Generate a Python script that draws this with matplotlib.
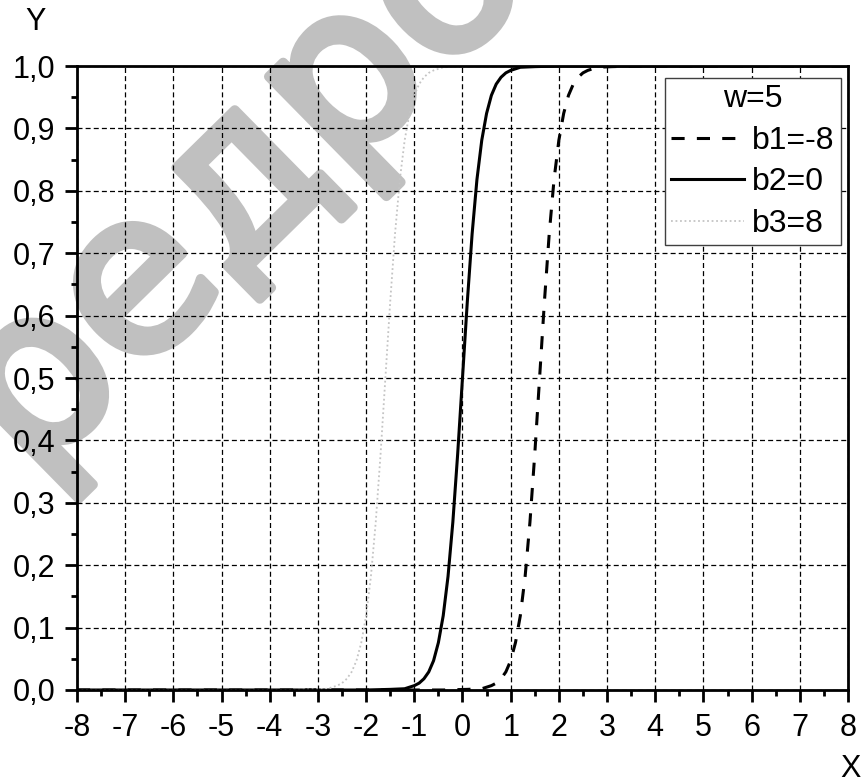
import matplotlib
matplotlib.use("Agg")
import matplotlib.pyplot as plt
import matplotlib.patheffects as pe
from matplotlib.ticker import FuncFormatter, MultipleLocator

plt.rcParams['font.family'] = ['Liberation Sans', 'DejaVu Sans']

# sigmoid outputs for w=5 and three bias values
x_b1 = [-8, -1.4, -0.4, 0.1, 0.4, 0.6, 0.7, 0.8, 0.9, 1.0, 1.1, 1.2, 1.3, 1.4, 1.5, 1.6,
        1.7, 1.8, 1.9, 2.0, 2.1, 2.2, 2.3, 2.4, 2.5, 2.6, 2.8, 3.1, 3.6, 4.6, 8]
y_b1 = [0.0, 0.0, 0.0, 0.001, 0.002, 0.007, 0.011, 0.018, 0.029, 0.047, 0.076, 0.119, 0.182,
        0.269, 0.378, 0.5, 0.622, 0.731, 0.818, 0.881, 0.924, 0.953, 0.971, 0.982, 0.989,
        0.993, 0.998, 0.999, 1.0, 1.0, 1.0]

x_b2 = [-8, -3, -2, -1.5, -1.2, -1.0, -0.9, -0.8, -0.7, -0.6, -0.5, -0.4, -0.3, -0.2, -0.1, 0.0,
        0.1, 0.2, 0.3, 0.4, 0.5, 0.6, 0.7, 0.8, 0.9, 1.0, 1.2, 1.5, 2, 3, 8]
y_b2 = [0.0, 0.0, 0.0, 0.001, 0.002, 0.007, 0.011, 0.018, 0.029, 0.047, 0.076, 0.119, 0.182,
        0.269, 0.378, 0.5, 0.622, 0.731, 0.818, 0.881, 0.924, 0.953, 0.971, 0.982, 0.989,
        0.993, 0.998, 0.999, 1.0, 1.0, 1.0]

x_b3 = [-8, -4.6, -3.6, -3.1, -2.8, -2.6, -2.5, -2.4, -2.3, -2.2, -2.1, -2.0, -1.9, -1.8, -1.7, -1.6,
        -1.5, -1.4, -1.3, -1.2, -1.1, -1.0, -0.9, -0.8, -0.7, -0.6, -0.4, -0.1, 0.4, 1.4, 8]
y_b3 = [0.0, 0.0, 0.0, 0.001, 0.002, 0.007, 0.011, 0.018, 0.029, 0.047, 0.076, 0.119, 0.182,
        0.269, 0.378, 0.5, 0.622, 0.731, 0.818, 0.881, 0.924, 0.953, 0.971, 0.982, 0.989,
        0.993, 0.998, 0.999, 1.0, 1.0, 1.0]

labels = ['b1=-8', 'b2=0', 'b3=8']
legend_title = 'w=5'

fig = plt.figure(figsize=(8.63, 7.84), dpi=100)
ax = fig.add_axes([0.0892, 0.1199, 0.8934, 0.7959])
ax.set_facecolor('none')

# grey watermark behind the axes
fig.text(0.037, 0.388, 'редро', rotation=44.5, rotation_mode='anchor',
         ha='left', va='baseline', fontsize=160, family='DejaVu Sans',
         color='#c0c0c0', zorder=-1,
         path_effects=[pe.withStroke(linewidth=7, foreground='#c0c0c0')])

ax.plot(x_b1, y_b1, color='black', lw=2.2, linestyle=(0, (4.3, 4.0)), label=labels[0])
ax.plot(x_b2, y_b2, color='black', lw=2.2, linestyle='-', label=labels[1])
ax.plot(x_b3, y_b3, color='#c4c4c4', lw=1.3, linestyle=(0, (1, 1.5)), label=labels[2])

ax.set_xlim(-8, 8)
ax.set_ylim(0, 1)
ax.xaxis.set_major_locator(MultipleLocator(1))
ax.xaxis.set_minor_locator(MultipleLocator(0.5))
ax.yaxis.set_major_locator(MultipleLocator(0.1))
ax.yaxis.set_minor_locator(MultipleLocator(0.05))
ax.yaxis.set_major_formatter(FuncFormatter(lambda v, p: f"{v:.1f}".replace('.', ',')))
ax.xaxis.set_major_formatter(FuncFormatter(lambda v, p: f"{v:.0f}"))

ax.grid(True, which='major', color='black', lw=0.9, linestyle=(0, (4, 2.5)))
ax.tick_params(axis='both', which='major', direction='out', length=8.5, width=2,
               labelsize=22, color='black')
ax.tick_params(axis='both', which='minor', direction='out', length=4.3, width=2)
ax.tick_params(axis='x', which='major', pad=8)
ax.tick_params(axis='y', which='major', pad=7)
for s in ax.spines.values():
    s.set_linewidth(2)

fig.text(0.041, 0.972, 'Y', fontsize=22, ha='center', va='center')
fig.text(0.985, 0.019, 'X', fontsize=22, ha='center', va='center')

leg = ax.legend(title=legend_title, loc='upper right', bbox_to_anchor=(0.991, 0.981),
                borderaxespad=0, fontsize=23, title_fontsize=23, fancybox=False,
                framealpha=1, edgecolor='#404040', handlelength=2.28, handletextpad=0.25,
                borderpad=0.2, labelspacing=0.36)
leg.get_frame().set_linewidth(1)

fig.savefig('out.png', dpi=100)
